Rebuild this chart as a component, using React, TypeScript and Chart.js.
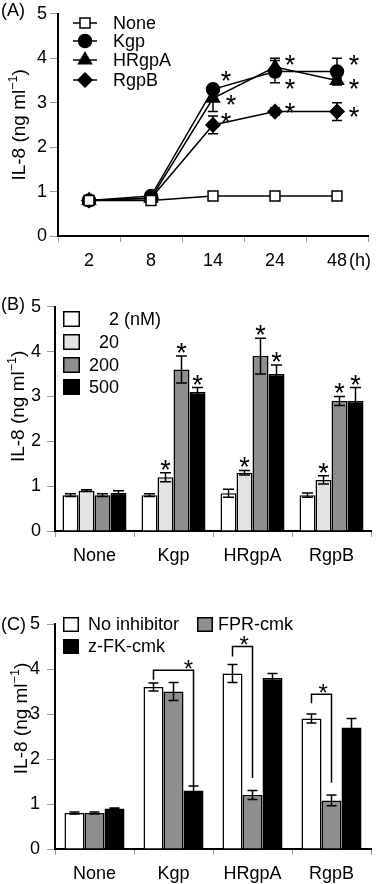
import React, { useEffect, useRef } from 'react';
import { Chart, registerables } from 'chart.js';

Chart.register(...registerables);

const FONT = "'Liberation Sans', Arial, Helvetica, sans-serif";

// ---------- Panel A data ----------
const hours = ['2', '8', '14', '24', '48'];
const seriesNamesA = ['None', 'Kgp', 'HRgpA', 'RgpB'];
const noneA = [0.8, 0.8, 0.9, 0.9, 0.9];
const noneAErr = [0, 0, 0, 0, 0];
const kgpA = [0.8, 0.9, 3.3, 3.7, 3.7];
const kgpAErr = [0, 0, 0.1, 0.25, 0.3];
const hrgpaA = [0.8, 0.85, 3.1, 3.8, 3.5];
const hrgpaAErr = [0, 0, 0.3, 0.2, 0.05];
const rgpbA = [0.8, 0.85, 2.5, 2.8, 2.8];
const rgpbAErr = [0, 0, 0.2, 0.08, 0.2];
// significance stars: [hour index, value level]
const starsA = [
  [2, 3.59], [2, 3.06], [2, 2.66],
  [3, 3.97], [3, 3.42], [3, 2.88],
  [4, 3.95], [4, 3.42], [4, 2.79],
];
const starDxA = [13, 18, 13, 15, 15, 15, 17, 17, 17];

// ---------- Panel B data ----------
const groups = ['None', 'Kgp', 'HRgpA', 'RgpB'];
const concLabels = ['2', '20', '200', '500'];
const b2 = [0.8, 0.8, 0.84, 0.8];
const b2Err = [0.03, 0.03, 0.09, 0.05];
const b20 = [0.9, 1.2, 1.3, 1.14];
const b20Err = [0.02, 0.1, 0.05, 0.09];
const b200 = [0.8, 3.6, 3.9, 2.9];
const b200Err = [0.03, 0.3, 0.4, 0.1];
const b500 = [0.85, 3.1, 3.5, 2.9];
const b500Err = [0.05, 0.1, 0.2, 0.3];
// stars: [dataset index, group index]
const starsB = [[1, 1], [2, 1], [3, 1], [1, 2], [2, 2], [3, 2], [1, 3], [2, 3], [3, 3]];

// ---------- Panel C data ----------
const inhibitorLabels = ['No inhibitor', 'FPR-cmk', 'z-FK-cmk'];
const cNo = [0.8, 3.6, 3.9, 2.9];
const cNoErr = [0.02, 0.09, 0.2, 0.1];
const cFpr = [0.8, 3.5, 1.2, 1.08];
const cFprErr = [0.02, 0.2, 0.1, 0.12];
const cZfk = [0.9, 1.3, 3.8, 2.7];
const cZfkErr = [0.01, 0.1, 0.1, 0.2];
// brackets: group, from dataset, to dataset, top level, left end level, right end level
const bracketsC = [
  { group: 1, from: 0, to: 2, top: 3.97, left: 3.76, right: 1.39, starPos: 0.87 },
  { group: 2, from: 0, to: 1, top: 4.5, left: 4.28, right: 1.58, starPos: 0.58 },
  { group: 3, from: 0, to: 1, top: 3.44, left: 3.24, right: 1.47, starPos: 0.58 },
];

const yTicks = [0, 1, 2, 3, 4, 5];

// ---------- helpers ----------
function drawStar(ctx: CanvasRenderingContext2D, x: number, cy: number, size = 27) {
  ctx.save();
  ctx.font = `${size}px ${FONT}`;
  ctx.fillStyle = '#000';
  ctx.textAlign = 'center';
  ctx.textBaseline = 'alphabetic';
  const m = ctx.measureText('*');
  const asc = m.actualBoundingBoxAscent || size * 0.72;
  const desc = m.actualBoundingBoxDescent || -size * 0.43;
  ctx.fillText('*', x, cy + (asc - desc) / 2);
  ctx.restore();
}

function drawYTitle(ctx: CanvasRenderingContext2D, x: number, y: number, size = 19) {
  ctx.save();
  ctx.translate(x, y);
  ctx.rotate(-Math.PI / 2);
  ctx.fillStyle = '#000';
  ctx.textAlign = 'left';
  ctx.textBaseline = 'alphabetic';
  const main = 'IL-8 (ng ml';
  const sup = '\u22121';
  const end = ')';
  const sSize = size * 0.66;
  ctx.font = `${size}px ${FONT}`;
  const w1 = ctx.measureText(main).width;
  const w3 = ctx.measureText(end).width;
  ctx.font = `${sSize}px ${FONT}`;
  const w2 = ctx.measureText(sup).width;
  let cx = -(w1 + w2 + w3) / 2;
  const base = 6.5;
  ctx.font = `${size}px ${FONT}`;
  ctx.fillText(main, cx, base);
  cx += w1;
  ctx.font = `${sSize}px ${FONT}`;
  ctx.fillText(sup, cx, base - size * 0.42);
  cx += w2;
  ctx.font = `${size}px ${FONT}`;
  ctx.fillText(end, cx, base);
  ctx.restore();
}

function drawText(ctx: CanvasRenderingContext2D, t: string, x: number, y: number, align: CanvasTextAlign = 'left', size = 18) {
  ctx.save();
  ctx.font = `${size}px ${FONT}`;
  ctx.fillStyle = '#000';
  ctx.textAlign = align;
  ctx.textBaseline = 'middle';
  ctx.fillText(t, x, y);
  ctx.restore();
}

function drawMarker(ctx: CanvasRenderingContext2D, style: string, x: number, y: number, fill: string) {
  ctx.save();
  ctx.fillStyle = fill;
  ctx.strokeStyle = '#000';
  ctx.lineWidth = 1.5;
  ctx.beginPath();
  if (style === 'rect') {
    ctx.rect(x - 5, y - 5, 10, 10);
  } else if (style === 'circle') {
    ctx.arc(x, y, 6.5, 0, Math.PI * 2);
  } else if (style === 'triangle') {
    const r = 7.5;
    ctx.moveTo(x, y - r);
    ctx.lineTo(x + r * 0.866, y + r / 2);
    ctx.lineTo(x - r * 0.866, y + r / 2);
    ctx.closePath();
  } else {
    const r = 7;
    ctx.moveTo(x, y - r);
    ctx.lineTo(x + r, y);
    ctx.lineTo(x, y + r);
    ctx.lineTo(x - r, y);
    ctx.closePath();
  }
  ctx.fill();
  ctx.stroke();
  ctx.restore();
}

function drawSwatch(ctx: CanvasRenderingContext2D, x: number, y: number, w: number, h: number, fill: string) {
  ctx.save();
  ctx.fillStyle = fill;
  ctx.strokeStyle = '#000';
  ctx.lineWidth = 1.5;
  ctx.fillRect(x, y, w, h);
  ctx.strokeRect(x + 0.75, y + 0.75, w - 1.5, h - 1.5);
  ctx.restore();
}

const errorBarPlugin = {
  id: 'errbars',
  afterDatasetsDraw(chart: any) {
    const ctx = chart.ctx;
    const ys = chart.scales.y;
    const cap = chart.options.plugins.errbars?.cap ?? 5;
    chart.data.datasets.forEach((ds: any, i: number) => {
      const errs = ds.errors;
      if (!errs) return;
      const meta = chart.getDatasetMeta(i);
      meta.data.forEach((el: any, j: number) => {
        const e = errs[j];
        if (!e) return;
        const v = ds.data[j];
        const x = el.x;
        const yt = ys.getPixelForValue(v + e);
        const yb = ys.getPixelForValue(v - e);
        ctx.save();
        ctx.strokeStyle = '#000';
        ctx.lineWidth = 1.5;
        ctx.beginPath();
        ctx.moveTo(x, yt);
        ctx.lineTo(x, yb);
        ctx.moveTo(x - cap, yt);
        ctx.lineTo(x + cap, yt);
        ctx.moveTo(x - cap, yb);
        ctx.lineTo(x + cap, yb);
        ctx.stroke();
        ctx.restore();
      });
    });
  },
};

function yScale(width: number, tickLen: number, pad: number) {
  return {
    min: 0,
    max: 5,
    afterBuildTicks: (s: any) => {
      s.ticks = yTicks.map((v) => ({ value: v }));
    },
    ticks: { padding: pad, color: '#000', font: { size: 18, family: FONT } },
    grid: { drawOnChartArea: false, drawTicks: true, tickLength: tickLen, color: '#999', lineWidth: 1 },
    border: { display: true, color: '#000', width: 2 },
    afterFit: (s: any) => {
      s.width = width;
    },
  };
}

function xScale(height: number, pad: number) {
  return {
    type: 'category',
    offset: true,
    ticks: { padding: pad, color: '#000', font: { size: 18, family: FONT }, autoSkip: false, maxRotation: 0 },
    grid: { offset: true, drawOnChartArea: false, drawTicks: true, tickLength: 6, color: '#999', lineWidth: 1 },
    border: { display: true, color: '#000', width: 2 },
    afterFit: (s: any) => {
      s.height = height;
    },
  };
}

const baseOpts = {
  responsive: false,
  animation: false,
  events: [],
};

// ---------- Panel A ----------
function makeA(canvas: HTMLCanvasElement) {
  const styles = ['rect', 'circle', 'triangle', 'rectRot'];
  const fills = ['#fff', '#000', '#000', '#000'];
  const radii = [7, 6.5, 7.5, 7];
  const values = [noneA, kgpA, hrgpaA, rgpbA];
  const errs = [noneAErr, kgpAErr, hrgpaAErr, rgpbAErr];
  const decor = {
    id: 'decorA',
    afterDraw(chart: any) {
      const ctx = chart.ctx;
      const ys = chart.scales.y;
      const xs = chart.scales.x;
      drawText(ctx, '(A)', 1, 11, 'left', 18);
      drawYTitle(ctx, 18, ys.getPixelForValue(2.5));
      // legend
      const rows = [23, 41, 60, 80];
      seriesNamesA.forEach((n, i) => {
        ctx.save();
        ctx.strokeStyle = '#000';
        ctx.lineWidth = 1.5;
        ctx.beginPath();
        ctx.moveTo(73, rows[i]);
        ctx.lineTo(97, rows[i]);
        ctx.stroke();
        ctx.restore();
        drawMarker(ctx, styles[i], 85, rows[i], fills[i]);
        drawText(ctx, n, 113, rows[i] + 1, 'left', 18);
      });
      // stars
      starsA.forEach(([hi, lv], k) => {
        drawStar(ctx, xs.getPixelForValue(hi) + starDxA[k], ys.getPixelForValue(lv), 27);
      });
      // unit
      const lastX = xs.getPixelForValue(hours.length - 1);
      drawText(ctx, '(h)', lastX + 12, xs.top + 25, 'left', 18);
    },
  };
  return new Chart(canvas, {
    type: 'line',
    data: {
      labels: hours,
      datasets: values.map((d, i) => ({
        label: seriesNamesA[i],
        data: d,
        errors: errs[i],
        borderColor: '#000',
        borderWidth: 1.5,
        tension: 0,
        fill: false,
        pointStyle: styles[i],
        pointRadius: radii[i],
        pointBackgroundColor: fills[i],
        pointBorderColor: '#000',
        pointBorderWidth: 1.5,
      })) as any,
    },
    options: {
      ...baseOpts,
      layout: { padding: { top: 12, right: 5, left: 0, bottom: 0 } },
      scales: { x: xScale(54, 8), y: yScale(58, 8, 3) } as any,
      plugins: { legend: { display: false }, tooltip: { enabled: false }, errbars: { cap: 5 } } as any,
    } as any,
    plugins: [errorBarPlugin, decor],
  });
}

// ---------- Panel B ----------
function makeB(canvas: HTMLCanvasElement) {
  const colors = ['#ffffff', '#e3e3e3', '#8e8e8e', '#000000'];
  const values = [b2, b20, b200, b500];
  const errs = [b2Err, b20Err, b200Err, b500Err];
  const decor = {
    id: 'decorB',
    afterDraw(chart: any) {
      const ctx = chart.ctx;
      const ys = chart.scales.y;
      drawText(ctx, '(B)', 1, 15, 'left', 18);
      drawYTitle(ctx, 17, ys.getPixelForValue(2.78));
      const rows = [29, 52, 75, 97];
      concLabels.forEach((c, i) => {
        drawSwatch(ctx, 63, rows[i] - 8, 17, 16, colors[i]);
        drawText(ctx, c, 119, rows[i] + 1, 'right', 18);
      });
      drawText(ctx, '(nM)', 124, rows[0] + 1, 'left', 18);
      starsB.forEach(([di, gi]) => {
        const el = chart.getDatasetMeta(di).data[gi];
        const top = ys.getPixelForValue(values[di][gi] + errs[di][gi]);
        drawStar(ctx, el.x, top - 8, 27);
      });
    },
  };
  return new Chart(canvas, {
    type: 'bar',
    data: {
      labels: groups,
      datasets: values.map((d, i) => ({
        label: concLabels[i],
        data: d,
        errors: errs[i],
        backgroundColor: colors[i],
        borderColor: '#000',
        borderWidth: 1.5,
        categoryPercentage: 0.81,
        barPercentage: 1,
      })) as any,
    },
    options: {
      ...baseOpts,
      layout: { padding: { top: 16, right: 6, left: 0, bottom: 0 } },
      scales: { x: xScale(59, 8), y: yScale(55, 8, 6) } as any,
      plugins: { legend: { display: false }, tooltip: { enabled: false }, errbars: { cap: 5.5 } } as any,
    } as any,
    plugins: [errorBarPlugin, decor],
  });
}

// ---------- Panel C ----------
function makeC(canvas: HTMLCanvasElement) {
  const colors = ['#ffffff', '#8e8e8e', '#000000'];
  const values = [cNo, cFpr, cZfk];
  const errs = [cNoErr, cFprErr, cZfkErr];
  const decor = {
    id: 'decorC',
    afterDraw(chart: any) {
      const ctx = chart.ctx;
      const ys = chart.scales.y;
      drawText(ctx, '(C)', 1, 35, 'left', 18);
      drawYTitle(ctx, 20, ys.getPixelForValue(2.9));
      // legend
      drawSwatch(ctx, 63, 27, 16, 15, colors[0]);
      drawText(ctx, inhibitorLabels[0], 88, 35, 'left', 18);
      drawSwatch(ctx, 197, 27, 16, 15, colors[1]);
      drawText(ctx, inhibitorLabels[1], 218, 35, 'left', 18);
      drawSwatch(ctx, 63, 49, 16, 15, colors[2]);
      drawText(ctx, inhibitorLabels[2], 88, 57, 'left', 18);
      // brackets
      bracketsC.forEach((b) => {
        const xl = chart.getDatasetMeta(b.from).data[b.group].x;
        const xr = chart.getDatasetMeta(b.to).data[b.group].x;
        const yt = ys.getPixelForValue(b.top);
        ctx.save();
        ctx.strokeStyle = '#000';
        ctx.lineWidth = 1.5;
        ctx.beginPath();
        ctx.moveTo(xl, ys.getPixelForValue(b.left));
        ctx.lineTo(xl, yt);
        ctx.lineTo(xr, yt);
        ctx.lineTo(xr, ys.getPixelForValue(b.right));
        ctx.stroke();
        ctx.restore();
        drawStar(ctx, xl + (xr - xl) * b.starPos, yt - 6, 24);
      });
    },
  };
  return new Chart(canvas, {
    type: 'bar',
    data: {
      labels: groups,
      datasets: values.map((d, i) => ({
        label: inhibitorLabels[i],
        data: d,
        errors: errs[i],
        backgroundColor: colors[i],
        borderColor: '#000',
        borderWidth: 1.5,
        categoryPercentage: 0.76,
        barPercentage: 1,
      })) as any,
    },
    options: {
      ...baseOpts,
      layout: { padding: { top: 34, right: 6, left: 0, bottom: 0 } },
      scales: { x: xScale(35, 8), y: yScale(55, 8, 7) } as any,
      plugins: { legend: { display: false }, tooltip: { enabled: false }, errbars: { cap: 5 } } as any,
    } as any,
    plugins: [errorBarPlugin, decor],
  });
}

function Panel({ w, h, make }: { w: number; h: number; make: (c: HTMLCanvasElement) => Chart }) {
  const ref = useRef<HTMLCanvasElement | null>(null);
  useEffect(() => {
    if (!ref.current) return;
    const chart = make(ref.current);
    return () => chart.destroy();
  }, [make]);
  return <canvas ref={ref} width={w} height={h} style={{ display: 'block', width: w, height: h }} />;
}

export default function App() {
  return (
    <div style={{ position: 'absolute', left: 0, top: 0, width: 377, height: 884, background: '#fff' }}>
      <Panel w={377} h={290} make={makeA} />
      <Panel w={377} h={300} make={makeB} />
      <Panel w={377} h={294} make={makeC} />
    </div>
  );
}
